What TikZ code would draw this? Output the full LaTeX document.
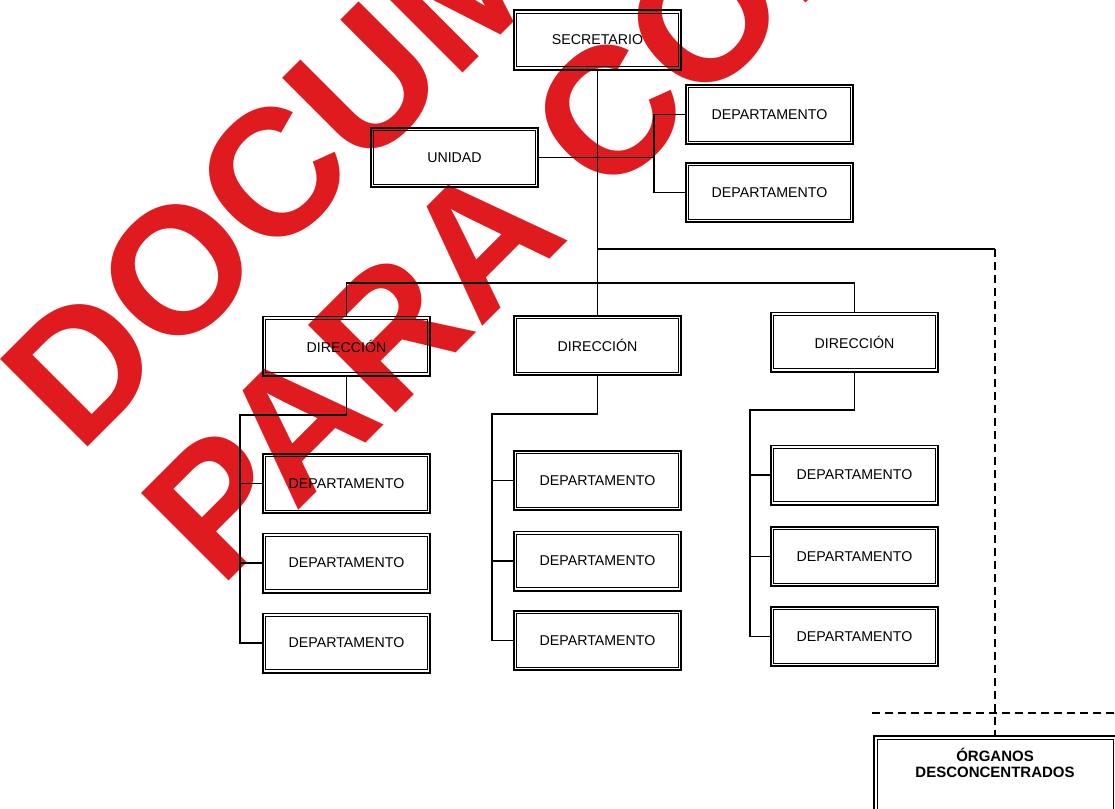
\documentclass[tikz,border=0pt]{standalone}
\usepackage{fontspec}
\setmainfont{Liberation Sans}
\definecolor{stampred}{HTML}{E01B1F}
\newcommand\boxfont{\fontsize{14.2}{17}\selectfont}
\newcommand\organfont{\fontsize{15}{15.5}\selectfont\bfseries}
\newcommand\stampfont{\fontsize{180}{180}\selectfont\bfseries}
\begin{document}
\begin{tikzpicture}[x=1pt,y=-1pt,
  orgbox/.style={draw=black, line width=1.6pt,
    minimum width=167.4pt, minimum height=59.4pt, inner sep=0pt, font=\boxfont,
    path picture={\draw[line width=0.9pt]
      ([shift={(3pt,-3pt)}]path picture bounding box.north west) rectangle
      ([shift={(-3pt,3pt)}]path picture bounding box.south east);}},
  link/.style={draw=black, line width=1.3pt},
  dlink/.style={link, dash pattern=on 8pt off 5pt},
  stamp/.style={text=stampred, font=\stampfont, rotate=45, inner sep=0pt}]
\useasboundingbox (0,0) rectangle (1115,808);
\clip (0,0) rectangle (1115,808);
\fill[white] (0,0) rectangle (1115,808);

% stamp across the sheet
\node[stamp] (wm1) at (452,-4) {DOCUMENTO};
\node[stamp] (wm2) at (714,8) {PARA CONSULTA};

% top level
\node[orgbox] (sec) at (597.5,40) {SECRETARIO};
\node[orgbox] (uni) at (454.5,157.5) {UNIDAD};
\node[orgbox] (da1) at (769.5,114.5) {DEPARTAMENTO};
\node[orgbox] (da2) at (769.5,192.5) {DEPARTAMENTO};

% directions
\node[orgbox] (dir1) at (346.5,346) {DIRECCIÓN};
\node[orgbox] (dir2) at (597.5,345.5) {DIRECCIÓN};
\node[orgbox] (dir3) at (854.5,342) {DIRECCIÓN};

% departments under each direction
\node[orgbox] (d11) at (346.5,483.5) {DEPARTAMENTO};
\node[orgbox] (d12) at (346.5,563) {DEPARTAMENTO};
\node[orgbox] (d13) at (346.5,643) {DEPARTAMENTO};
\node[orgbox] (d21) at (597.5,480.5) {DEPARTAMENTO};
\node[orgbox] (d22) at (597.5,561) {DEPARTAMENTO};
\node[orgbox] (d23) at (597.5,640.5) {DEPARTAMENTO};
\node[orgbox] (d31) at (854.5,475) {DEPARTAMENTO};
\node[orgbox] (d32) at (854.5,556.5) {DEPARTAMENTO};
\node[orgbox] (d33) at (854.5,636.5) {DEPARTAMENTO};

% decentralised bodies
\node[orgbox, minimum width=242pt, minimum height=78pt] (org) at (995,775) {};
\node[font=\organfont, align=center, inner sep=0pt] (orgtxt) at (995,763) {ÓRGANOS\\DESCONCENTRADOS};

% junction points
\coordinate (uj) at (654,157.5);
\coordinate (ob) at (597.5,249);
\coordinate (oc) at (995,249);
\coordinate (dbar) at (0,283);
\coordinate (c1) at (240,415);
\coordinate (c2) at (492,414);
\coordinate (c3) at (750,410);
\coordinate (ol) at (872,713);
\coordinate (or) at (1115,713);

% connectors
\draw[link] (sec.south) -- (dir2.north);
\draw[link] (uni.east) -- (uj);
\draw[link] (da1.west) -| (uj) |- (da2.west);
\draw[link] (ob) -- (oc);
\draw[dlink] (oc) -- (org.north);
\draw[dlink] (ol) -- (or);
\draw[link] (dir1.north) |- (dbar -| dir3.north) -- (dir3.north);

\draw[link] (dir1.south) |- (c1) |- (d13.west);
\draw[link] (c1 |- d11.west) -- (d11.west);
\draw[link] (c1 |- d12.west) -- (d12.west);

\draw[link] (dir2.south) |- (c2) |- (d23.west);
\draw[link] (c2 |- d21.west) -- (d21.west);
\draw[link] (c2 |- d22.west) -- (d22.west);

\draw[link] (dir3.south) |- (c3) |- (d33.west);
\draw[link] (c3 |- d31.west) -- (d31.west);
\draw[link] (c3 |- d32.west) -- (d32.west);
\end{tikzpicture}
\end{document}
